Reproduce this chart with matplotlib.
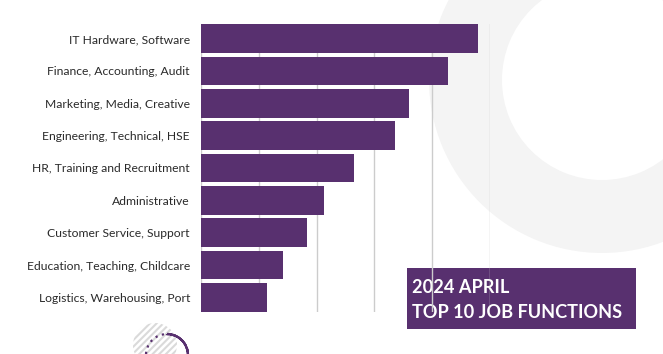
import numpy as np
import matplotlib.pyplot as plt
from matplotlib.patches import Circle, Wedge, Rectangle

# DATA
#===============================================================================
functions = ['IT Hardware, Software', 'Finance, Accounting, Audit',
             'Marketing, Media, Creative', 'Engineering, Technical, HSE',
             'HR, Training and Recruitment', 'Administrative',
             'Customer Service, Support', 'Education, Teaching, Childcare',
             'Logistics, Warehousing, Port']
shares = [9.57, 8.56, 7.2, 6.72, 5.3, 4.26, 3.67, 2.84, 2.29]
title_lines = ['2024 APRIL', 'TOP 10 JOB FUNCTIONS']
#===============================================================================

purple = '#58306F'
W, H = 663, 354

fig = plt.figure(figsize=(W / 100, H / 100), dpi=100)

# background decorations in pixel coords
bg = fig.add_axes([0, 0, 1, 1])
bg.set_xlim(0, W)
bg.set_ylim(H, 0)
bg.axis('off')
bg.add_patch(Wedge((602, 80), 173, 0, 360, width=73, color='#F4F4F4', lw=0))
plt.rcParams['hatch.linewidth'] = 1.5
bg.add_patch(Circle((155, 345), 22, facecolor='none', edgecolor='#DADADA',
                    hatch='/////', lw=0))
bg.add_patch(Circle((167, 355), 21, facecolor='none', edgecolor=purple,
                    lw=1.6, ls=(0, (1, 2))))
bg.add_patch(Wedge((167, 355), 21, -90, 20, width=0.1, facecolor='none',
                   edgecolor=purple, lw=1.6))

ax = fig.add_axes([201 / W, 1 - 312 / H, (490 - 201) / W, (312 - 24) / H])
ax.patch.set_alpha(0)
y = np.arange(len(functions))
bars = ax.barh(y, shares, height=0.89, color=purple, zorder=3)
ax.set_xlim(0, 10)
ax.set_ylim(len(functions) - 0.55, -0.45)
ax.set_xticks(np.arange(0, 11, 2))
ax.set_xticklabels([])
ax.tick_params(axis='x', length=0)
ax.tick_params(axis='y', length=0, pad=8)
ax.set_yticks(y)
ax.set_yticklabels(functions, fontsize=8.7, family='Lato', color='#2A2A2A')
ax.grid(axis='x', color='#CCCCCC', lw=1, zorder=0)
for s in ax.spines.values():
  s.set_visible(False)

# title box
bg.add_patch(Rectangle((407, 268), 229, 61, color=purple, lw=0, zorder=5))
bg.text(412, 293, title_lines[0], color='white', fontsize=13.1, family='Lato',
        weight='bold', va='baseline', zorder=6)
bg.text(412, 318, title_lines[1], color='white', fontsize=13.1, family='Lato',
        weight='bold', va='baseline', zorder=6)

plt.savefig('out.png', dpi=100)
